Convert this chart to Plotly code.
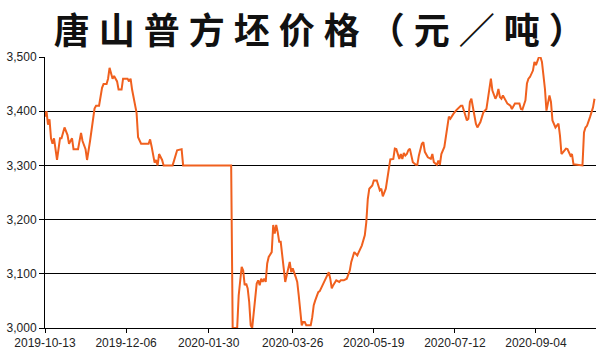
import pandas as pd
import plotly.graph_objects as go

title_text = "唐山普方坯价格（元／吨）"
start_date = "2019-10-13"

# days since 2019-10-13
day_offsets = [
    0, 1, 2, 3, 4, 5, 6, 8, 10, 11, 13, 15, 16, 18, 19, 22, 24, 25, 27, 28,
    30, 33, 34, 36, 38, 39, 41, 42, 43, 44, 45, 46, 48, 49, 51, 52, 55, 56, 57, 58,
    59, 61, 62, 64, 69, 70, 71, 73, 74, 75, 76, 78, 79, 85, 88, 91, 92, 124, 125, 126,
    128, 129, 131, 132, 133, 134, 135, 136, 137, 138, 140, 141, 142, 143, 144, 145, 146, 147, 148, 149,
    151, 152, 153, 154, 155, 156, 157, 158, 159, 160, 162, 163, 164, 165, 167, 168, 169, 170, 171, 172,
    173, 174, 177, 178, 179, 180, 181, 182, 183, 185, 188, 189, 190, 191, 192, 194, 196, 197, 199, 201,
    203, 204, 206, 208, 209, 211, 213, 214, 215, 216, 218, 219, 221, 222, 223, 224, 225, 227, 228, 229,
    230, 232, 233, 234, 236, 237, 238, 239, 240, 241, 242, 243, 244, 245, 247, 248, 249, 251, 252, 253,
    255, 257, 258, 259, 261, 262, 263, 264, 266, 267, 269, 270, 271, 272, 274, 277, 278, 279, 281, 282,
    283, 284, 285, 286, 287, 288, 290, 291, 292, 294, 295, 296, 297, 298, 300, 301, 302, 303, 304, 305,
    307, 308, 310, 311, 313, 316, 317, 318, 320, 321, 322, 323, 325, 326, 327, 328, 329, 330, 331, 332,
    333, 334, 335, 336, 337, 338, 340, 341, 342, 343, 344, 345, 347, 348, 350, 351, 352, 358, 359, 360,
    361, 363, 365, 366,
]

prices = [
    3390, 3400, 3375, 3385, 3350, 3340, 3350, 3310, 3350, 3350, 3370, 3356, 3340, 3350, 3330, 3330, 3360, 3345, 3330, 3310,
    3345, 3405, 3410, 3410, 3443, 3450, 3450, 3460, 3480, 3470, 3460, 3465, 3455, 3440, 3440, 3460, 3460, 3455, 3460, 3440,
    3425, 3397, 3352, 3340, 3340, 3348, 3335, 3305, 3310, 3300, 3321, 3310, 3300, 3300, 3328, 3330, 3300, 3300, 3000, 3000,
    3000, 3060, 3113, 3106, 3079, 3082, 3073, 3048, 3005, 3000, 3054, 3082, 3088, 3079, 3091, 3085, 3091, 3085, 3119, 3131,
    3140, 3190, 3174, 3190, 3177, 3159, 3159, 3128, 3110, 3085, 3113, 3122, 3103, 3110, 3094, 3085, 3060, 3030, 3005, 3011,
    3011, 3005, 3005, 3020, 3042, 3051, 3060, 3066, 3068, 3079, 3097, 3103, 3091, 3073, 3079, 3088, 3085, 3088, 3088, 3091,
    3106, 3122, 3140, 3134, 3140, 3152, 3171, 3195, 3238, 3257, 3263, 3272, 3272, 3260, 3254, 3257, 3243, 3257, 3278, 3300,
    3311, 3312, 3331, 3330, 3312, 3321, 3312, 3323, 3318, 3321, 3328, 3331, 3320, 3306, 3301, 3301, 3318, 3340, 3343, 3325,
    3315, 3312, 3321, 3306, 3301, 3309, 3301, 3321, 3334, 3355, 3390, 3386, 3392, 3395, 3402, 3410, 3410, 3401, 3383, 3386,
    3417, 3423, 3407, 3389, 3377, 3370, 3380, 3389, 3398, 3404, 3423, 3441, 3460, 3438, 3423, 3429, 3441, 3426, 3423, 3429,
    3420, 3414, 3410, 3404, 3414, 3414, 3404, 3403, 3420, 3451, 3460, 3463, 3475, 3491, 3485, 3491, 3500, 3500, 3491, 3466,
    3441, 3401, 3414, 3429, 3417, 3383, 3370, 3373, 3377, 3355, 3321, 3324, 3331, 3330, 3318, 3321, 3302, 3300, 3361, 3370,
    3373, 3389, 3407, 3423,
]

x_tick_labels = ["2019-10-13", "2019-12-06", "2020-01-30", "2020-03-26",
                 "2020-05-19", "2020-07-12", "2020-09-04"]
y_tick_values = [3000, 3100, 3200, 3300, 3400, 3500]
y_tick_labels = ["3,000", "3,100", "3,200", "3,300", "3,400", "3,500"]

dates = pd.to_datetime(start_date) + pd.to_timedelta(day_offsets, unit="D")

fig = go.Figure()
fig.add_trace(go.Scatter(
    x=dates, y=prices, mode="lines",
    line=dict(color="#f0601e", width=2),
    hoverinfo="skip",
))

fig.update_layout(
    width=600, height=360,
    margin=dict(l=45, r=4, t=57, b=32),
    paper_bgcolor="white", plot_bgcolor="white",
    showlegend=False,
    title=dict(
        text="\u2005".join(title_text), x=0.532, xanchor="center", y=0.914, yanchor="middle",
        yref="container",
        font=dict(family="Noto Sans CJK SC", size=36, color="#111111", weight="bold"),
    ),
    font=dict(family="Liberation Sans", size=12, color="#222222"),
)
fig.update_xaxes(
    type="date",
    range=["2019-10-13", "2020-10-14"],
    tickvals=pd.to_datetime(x_tick_labels), ticktext=x_tick_labels,
    showgrid=False, showline=True, linecolor="black", linewidth=1,
    ticks="outside", ticklen=4, tickcolor="black", zeroline=False,
)
fig.update_yaxes(
    range=[3000, 3500],
    tickvals=y_tick_values, ticktext=y_tick_labels,
    showgrid=True, gridcolor="black", gridwidth=1,
    showline=True, linecolor="black", linewidth=1,
    ticks="outside", ticklen=5, tickcolor="black", zeroline=False,
)

fig.write_html("out.html")
